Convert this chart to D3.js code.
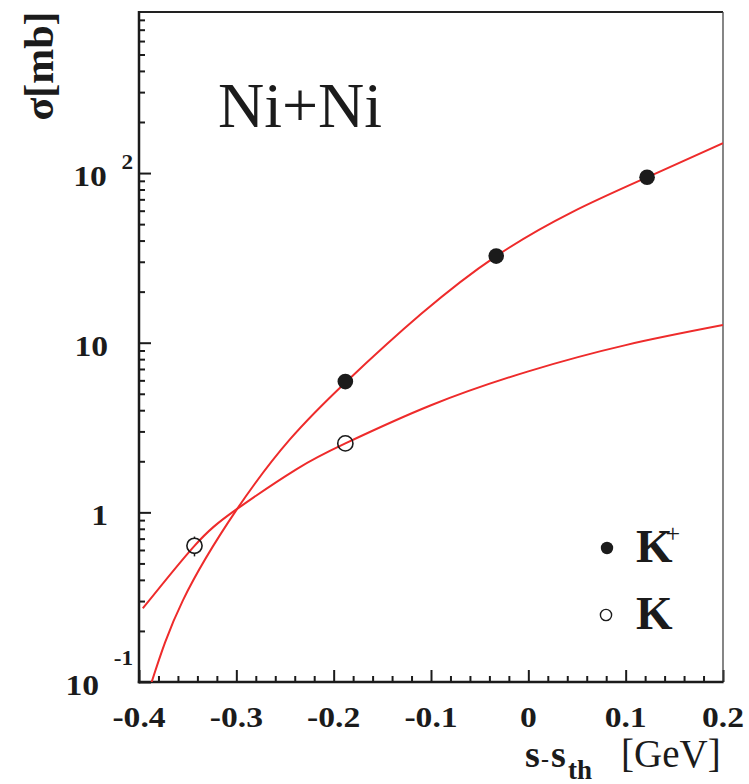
<!DOCTYPE html>
<html><head><meta charset="utf-8">
<script src="https://cdn.jsdelivr.net/npm/d3@7"></script>
<style>
html,body{margin:0;padding:0;background:#fff;}
svg{display:block;}
text{font-family:"Liberation Serif","Times New Roman",serif;fill:#1b1b1b;}
</style></head><body>
<svg id="chart" width="749" height="784"></svg>
<script>
// Measured cross sections (mb) versus excess energy s - s_th (GeV)
const kPlusEnergy = [-0.188, -0.033, 0.122];
const kPlusSigma = [5.9, 32.4, 94.4];
const kMinusEnergy = [-0.343, -0.188];
const kMinusSigma = [0.635, 2.55];
const kMinusError = [0.085, 0.15];

// Fitted excitation functions
const kPlusFitEnergy = [-0.387, -0.355, -0.300, -0.245, -0.187, -0.110, -0.033, 0.045, 0.122, 0.200];
const kPlusFitSigma = [0.100, 0.302, 1.03, 2.69, 5.89, 14.8, 32.4, 58.9, 94.4, 150];
const kMinusFitEnergy = [-0.396, -0.343, -0.301, -0.238, -0.188, -0.100, 0.000, 0.100, 0.200];
const kMinusFitSigma = [0.272, 0.635, 1.03, 1.80, 2.55, 4.28, 6.78, 9.68, 12.7];

// Axis ticks and labels
const xTickValues = [-0.4, -0.3, -0.2, -0.1, 0, 0.1, 0.2];
const xTickLabels = ["-0.4", "-0.3", "-0.2", "-0.1", "0", "0.1", "0.2"];
const yTickValues = [0.1, 1, 10, 100];
const yTickBase = ["10", "1", "10", "10"];
const yTickExp = ["-1", "", "", "2"];
const legendNames = ["K", "K"];
const legendCharges = ["+", ""];

const W = 749, H = 784;
const margin = {top: 12, right: 26, bottom: 102, left: 139};
const svg = d3.select("#chart");
const red = "#ee2b2b";
const ink = "#1b1b1b";

const x = d3.scaleLinear().domain([-0.4, 0.2]).range([margin.left, W - margin.right]);
const y = d3.scaleLog().domain([0.1, 890]).range([H - margin.bottom, margin.top]);

// minor ticks
const xMinor = d3.range(-0.4, 0.2001, 0.02).map(v => +v.toFixed(2)).filter(v => Math.abs(v * 10 - Math.round(v * 10)) > 1e-6);
const yMinor = [];
[0.1, 1, 10, 100].forEach(d => { for (let k = 2; k <= 9; k++) { const v = d * k; if (v < 890) yMinor.push(v); } });

const axisX0 = y.range()[0], axisY0 = x.range()[0];

// y axis ticks pointing inward
svg.append("g").attr("transform", `translate(${axisY0},0)`)
  .call(d3.axisRight(y).tickValues(yTickValues).tickSize(12).tickSizeOuter(0).tickFormat(""))
  .call(g => g.select(".domain").remove())
  .call(g => g.selectAll("line").attr("stroke", ink).attr("stroke-width", 2));
svg.append("g").attr("transform", `translate(${axisY0},0)`)
  .call(d3.axisRight(y).tickValues(yMinor).tickSize(6).tickSizeOuter(0).tickFormat(""))
  .call(g => g.select(".domain").remove())
  .call(g => g.selectAll("line").attr("stroke", ink).attr("stroke-width", 2));

// x axis ticks pointing inward
svg.append("g").attr("transform", `translate(0,${axisX0})`)
  .call(d3.axisTop(x).tickValues(xTickValues).tickSize(12).tickSizeOuter(0).tickFormat(""))
  .call(g => g.select(".domain").remove())
  .call(g => g.selectAll("line").attr("stroke", ink).attr("stroke-width", 2));
svg.append("g").attr("transform", `translate(0,${axisX0})`)
  .call(d3.axisTop(x).tickValues(xMinor).tickSize(6).tickSizeOuter(0).tickFormat(""))
  .call(g => g.select(".domain").remove())
  .call(g => g.selectAll("line").attr("stroke", ink).attr("stroke-width", 2));

// frame
const [xl, xr] = x.range(), [yb, yt] = y.range();
svg.append("line").attr("x1", xl).attr("x2", xr).attr("y1", yt).attr("y2", yt).attr("stroke", "#222").attr("stroke-width", 2);
svg.append("line").attr("x1", xr).attr("x2", xr).attr("y1", yt).attr("y2", yb).attr("stroke", "#444").attr("stroke-width", 1.3);
svg.append("line").attr("x1", xl).attr("x2", xl).attr("y1", yt - 1).attr("y2", yb + 1.2).attr("stroke", ink).attr("stroke-width", 2.5);
svg.append("line").attr("x1", xl - 1.2).attr("x2", xr + 0.6).attr("y1", yb).attr("y2", yb).attr("stroke", ink).attr("stroke-width", 2.5);

// tick labels (wide bold serif)
const stretch = 1.16;
const xl_g = svg.append("g");
xTickValues.forEach((v, i) => {
  xl_g.append("text")
    .attr("transform", `translate(${x(v)},${axisX0 + 45}) scale(${stretch},1)`)
    .attr("text-anchor", "middle").attr("font-weight", "bold").attr("font-size", 29)
    .text(xTickLabels[i]);
});

const yl_g = svg.append("g");
const expRight = 133, baseRight = 108;
yTickValues.forEach((v, i) => {
  const base = y(v) + 13;
  if (yTickExp[i]) {
    const e = yl_g.append("text")
      .attr("transform", `translate(${expRight},${base - (yTickExp[i].startsWith("-") ? 30 : 17)}) scale(${stretch},1)`)
      .attr("text-anchor", "end").attr("font-weight", "bold").attr("font-size", 20)
      .text(yTickExp[i]);
    const ew = e.node().getComputedTextLength() * stretch;
    yl_g.append("text")
      .attr("transform", `translate(${expRight - ew - 14.5},${base}) scale(${stretch},1)`)
      .attr("text-anchor", "end").attr("font-weight", "bold").attr("font-size", 29)
      .text(yTickBase[i]);
  } else {
    yl_g.append("text")
      .attr("transform", `translate(${baseRight},${base}) scale(${stretch},1)`)
      .attr("text-anchor", "end").attr("font-weight", "bold").attr("font-size", 29)
      .text(yTickBase[i]);
  }
});

// axis titles
svg.append("text")
  .attr("transform", `translate(53,66) rotate(-90)`)
  .attr("text-anchor", "middle").attr("font-weight", "bold").attr("font-size", 42)
  .text("σ[mb]");

const xt = svg.append("g").attr("font-weight", "bold");
xt.append("text").attr("x", 525).attr("y", 767).attr("font-size", 38).text("s");
xt.append("text").attr("x", 541).attr("y", 767).attr("font-size", 24).text("-");
xt.append("text").attr("x", 551).attr("y", 767).attr("font-size", 38).text("s");
xt.append("text").attr("x", 568).attr("y", 779).attr("font-size", 27).text("th");
xt.append("text").attr("x", 621).attr("y", 767).attr("font-weight", "normal").attr("font-size", 39).text("[GeV]");

// reaction label
svg.append("text").attr("x", 218).attr("y", 127).attr("font-size", 64).text("Ni+Ni");

// fitted curves
svg.append("clipPath").attr("id", "plotArea")
  .append("rect").attr("x", xl).attr("y", yt).attr("width", xr - xl).attr("height", yb - yt);
const line = d3.line().x(d => x(d[0])).y(d => y(d[1])).curve(d3.curveNatural);
const curves = svg.append("g").attr("clip-path", "url(#plotArea)");
curves.append("path").datum(d3.zip(kPlusFitEnergy, kPlusFitSigma))
  .attr("d", line).attr("fill", "none").attr("stroke", red).attr("stroke-width", 2);
curves.append("path").datum(d3.zip(kMinusFitEnergy, kMinusFitSigma))
  .attr("d", line).attr("fill", "none").attr("stroke", red).attr("stroke-width", 2);

// data points
const rFilled = 7.8, rOpen = 7.6;
const pts = svg.append("g");
kMinusEnergy.forEach((e, i) => {
  const cx = x(e), cy = y(kMinusSigma[i]);
  const yUp = y(kMinusSigma[i] + kMinusError[i]), yDn = y(kMinusSigma[i] - kMinusError[i]);
  if (cy - rOpen > yUp) pts.append("line").attr("x1", cx).attr("x2", cx).attr("y1", cy - rOpen).attr("y2", yUp).attr("stroke", ink).attr("stroke-width", 1.5);
  if (yDn > cy + rOpen) pts.append("line").attr("x1", cx).attr("x2", cx).attr("y1", cy + rOpen).attr("y2", yDn).attr("stroke", ink).attr("stroke-width", 1.5);
  pts.append("circle").attr("cx", cx).attr("cy", cy).attr("r", rOpen)
    .attr("fill", "none").attr("stroke", ink).attr("stroke-width", 1.6);
});
kPlusEnergy.forEach((e, i) => {
  pts.append("circle").attr("cx", x(e)).attr("cy", y(kPlusSigma[i])).attr("r", rFilled).attr("fill", ink);
});

// legend
const leg = svg.append("g");
const legRows = [548, 615];
legendNames.forEach((n, i) => {
  const cy = legRows[i];
  if (i === 0) leg.append("circle").attr("cx", 607).attr("cy", cy).attr("r", 6.2).attr("fill", ink);
  else leg.append("circle").attr("cx", 606).attr("cy", cy).attr("r", 5.6).attr("fill", "none").attr("stroke", ink).attr("stroke-width", 1.4);
  const t = leg.append("text").attr("x", 636).attr("y", cy + 14).attr("font-weight", "bold").attr("font-size", 47).text(n);
  if (legendCharges[i]) t.append("tspan").attr("dy", -20).attr("dx", -7).attr("font-size", 26).attr("font-weight", "normal").text(legendCharges[i]);
});
</script>
</body></html>
